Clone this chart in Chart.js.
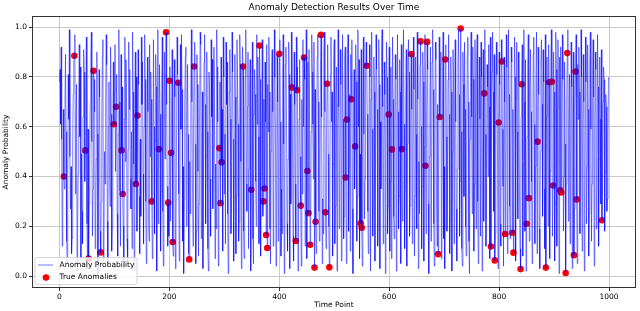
<!DOCTYPE html>
<html>
<head>
<meta charset="utf-8">
<script src="https://cdn.jsdelivr.net/npm/chart.js@4/dist/chart.umd.min.js"></script>
<style>
html,body{margin:0;padding:0;background:#fff;}
#c{display:block;}
</style>
</head>
<body>
<canvas id="c" width="640" height="311"></canvas>
<script>
const chartTitle = 'Anomaly Detection Results Over Time';
const xLabel = 'Time Point';
const yLabel = 'Anomaly Probability';
const lineLabel = 'Anomaly Probability';
const dotLabel = 'True Anomalies';
const xTicks = [0, 200, 400, 600, 800, 1000];
const yTicks = [0.0, 0.2, 0.4, 0.6, 0.8, 1.0];

// anomaly probability for time points 0..999 (20 per row)
const prob = [
/*   0 */ .78,.83,.61,.92,.55,.12,.27,.67,.40,.35,.71,.89,.58,.14,.05,.36,.81,.63,.99,.48,
/*  20 */ .27,.44,.09,.15,.52,.73,.86,.885,.97,.33,.61,.77,.02,.19,.41,.68,.93,.56,.84,.07,
/*  40 */ .49,.26,.13,.64,.91,.82,.38,.505,.75,.96,.21,.03,.59,.07,.29,.45,.70,.87,.98,.54,
/*  60 */ .16,.35,.825,.79,.66,.11,.24,.47,.90,.57,.01,.39,.83,.72,.18,.095,.30,.62,.88,.95,
/*  80 */ .06,.14,.50,.37,.69,.97,.85,.22,.04,.60,.78,.43,.28,.92,.65,.10,.19,.53,.86,.61,
/* 100 */ .74,.93,.42,.68,.81,.25,.08,.57,.99,.70,.34,.12,.89,.505,.76,.33,.20,.03,.63,.96,
/* 120 */ .46,.87,.72,.15,.06,.51,.94,.67,.83,.39,.27,.58,.11,.98,.74,.45,.02,.62,.90,.37,
/* 140 */ .80,.18,.645,.91,.77,.32,.09,.55,.24,.96,.69,.86,.41,.13,.60,.97,.79,.30,.05,.52,
/* 160 */ .88,.66,.23,.14,.93,.48,.82,.71,.30,.07,.38,.95,.60,.17,.54,.89,.76,.02,.43,.99,
/* 180 */ .21,.51,.85,.65,.10,.34,.73,.96,.26,.04,.58,.90,.47,.79,.98,.69,.36,.12,.295,.16,
/* 200 */ .785,.84,.22,.495,.63,.91,.137,.08,.40,.87,.72,.03,.19,.55,.96,.81,.777,.33,.06,.28,
/* 220 */ .93,.59,.97,.75,.14,.44,.01,.31,.68,.88,.92,.20,.63,.85,.57,.09,.067,.46,.25,.78,
/* 240 */ .99,.70,.37,.12,.60,.842,.94,.53,.05,.18,.89,.77,.42,.08,.29,.66,.98,.93,.15,.50,
/* 260 */ .74,.03,.35,.86,.97,.69,.21,.48,.90,.58,.11,.02,.82,.75,.39,.16,.95,.64,.87,.27,
/* 280 */ .52,.92,.71,.07,.45,.19,.99,.84,.62,.04,.36,.514,.78,.293,.88,.457,.67,.10,.96,.80,
/* 300 */ .33,.57,.13,.94,.69,.86,.25,.01,.49,.74,.91,.63,.17,.28,.98,.82,.55,.06,.40,.89,
/* 320 */ .72,.09,.32,.95,.78,.61,.14,.22,.97,.85,.46,.03,.70,.92,.842,.18,.07,.54,.80,.99,
/* 340 */ .37,.26,.68,.90,.11,.43,.76,.87,.02,.347,.59,.94,.15,.05,.65,.83,.73,.38,.20,.97,
/* 360 */ .61,.88,.56,.13,.926,.79,.08,.41,.67,.95,.24,.30,.71,.352,.86,.62,.165,.93,.113,.77,
/* 380 */ .58,.96,.74,.19,.05,.50,.83,.91,.66,.12,.31,.99,.80,.57,.04,.23,.89,.70,.14,.44,
/* 400 */ .893,.95,.62,.08,.35,.17,.76,.97,.53,.01,.40,.85,.92,.68,.21,.10,.47,.94,.81,.03,
/* 420 */ .73,.29,.98,.758,.55,.16,.06,.90,.69,.37,.141,.96,.747,.84,.02,.22,.63,.87,.48,.283,
/* 440 */ .04,.71,.33,.95,.60,.878,.79,.12,.44,.99,.07,.422,.86,.253,.91,.67,.126,.18,.58,.97,
/* 460 */ .82,.61,.39,.94,.034,.75,.218,.09,.52,.88,.97,.70,.26,.14,.43,.85,.969,.64,.05,.31,
/* 480 */ .17,.90,.98,.66,.256,.11,.58,.773,.93,.49,.20,.035,.37,.81,.96,.62,.74,.08,.45,.87,
/* 500 */ .95,.13,.28,.72,.84,.02,.56,.99,.68,.19,.41,.91,.77,.06,.34,.97,.63,.15,.24,.88,
/* 520 */ .92,.396,.05,.629,.86,.97,.18,.44,.73,.10,.89,.71,.95,.27,.01,.66,.83,.35,.521,.93,
/* 540 */ .78,.14,.32,.99,.60,.87,.07,.49,.212,.91,.194,.04,.70,.96,.57,.23,.39,.82,.94,.845,
/* 560 */ .65,.26,.09,.47,.93,.80,.02,.71,.98,.59,.16,.30,.88,.74,.06,.42,.97,.83,.67,.12,
/* 580 */ .21,.95,.77,.03,.62,.35,.90,.99,.68,.13,.46,.86,.73,.01,.55,.94,.80,.17,.28,.649,
/* 600 */ .92,.10,.38,.84,.07,.509,.96,.71,.24,.15,.58,.89,.79,.02,.43,.97,.66,.19,.32,.87,
/* 620 */ .74,.05,.93,.51,.22,.85,.99,.61,.11,.36,.69,.91,.04,.53,.77,.95,.82,.16,.28,.63,
/* 640 */ .892,.67,.13,.40,.96,.75,.08,.32,.88,.57,.19,.98,.71,.03,.46,.25,.85,.943,.60,.11,
/* 660 */ .36,.90,.78,.06,.52,.97,.443,.17,.64,.941,.83,.29,.01,.48,.70,.92,.14,.37,.86,.99,
/* 680 */ .75,.21,.04,.58,.94,.87,.31,.12,.69,.088,.41,.96,.639,.83,.90,.07,.26,.72,.98,.15,
/* 700 */ .44,.03,.87,.93,.56,.18,.35,.79,.97,.65,.09,.23,.88,.74,.02,.50,.91,.81,.13,.68,
/* 720 */ .95,.62,.27,.06,.43,.85,.99,.73,.16,.38,.995,.58,.11,.04,.90,.77,.32,.94,.67,.20,
/* 740 */ .08,.47,.89,.96,.70,.14,.01,.55,.83,.98,.64,.25,.92,.79,.10,.37,.95,.61,.19,.86,
/* 760 */ .97,.30,.05,.72,.88,.63,.16,.94,.80,.02,.45,.91,.22,.734,.99,.57,.12,.34,.85,.76,
/* 780 */ .40,.93,.68,.07,.96,.119,.53,.82,.98,.74,.26,.89,.063,.17,.66,.94,.81,.48,.03,.617,
/* 800 */ .90,.77,.21,.12,.95,.862,.59,.36,.04,.88,.70,.169,.43,.97,.84,.09,.62,.99,.73,.28,
/* 820 */ .15,.51,.92,.86,.174,.67,.094,.39,.96,.80,.06,.71,.94,.58,.23,.90,.78,.33,.11,.028,
/* 840 */ .64,.771,.93,.08,.45,.99,.70,.18,.87,.02,.21,.56,.83,.97,.313,.14,.75,.91,.66,.38,
/* 860 */ .05,.27,.89,.96,.61,.13,.44,.80,.98,.09,.54,.92,.73,.19,.03,.50,.86,.95,.69,.24,
/* 880 */ .91,.78,.35,.11,.97,.034,.64,.88,.57,.20,.93,.779,.07,.42,.85,.99,.781,.16,.364,.90,
/* 900 */ .74,.06,.29,.98,.83,.12,.67,.95,.47,.01,.88,.345,.92,.336,.60,.97,.79,.18,.40,.86,
/* 920 */ .53,.012,.37,.71,.896,.99,.22,.58,.81,.13,.46,.94,.76,.03,.62,.90,.084,.27,.68,.822,
/* 940 */ .97,.308,.05,.85,.63,.92,.74,.17,.41,.99,.80,.10,.55,.89,.70,.02,.33,.96,.78,.21,
/* 960 */ .44,.93,.67,.08,.25,.86,.98,.59,.14,.37,.81,.95,.72,.04,.50,.90,.83,.19,.31,.97,
/* 980 */ .76,.12,.47,.88,.63,.29,.91,.224,.35,.70,.84,.79,.18,.42,.73,.68,.26,.31,.55,.80
];

// time points flagged as true anomalies
const anomalyIdx = [
  8, 27, 47, 53, 62, 75, 99, 103, 113, 115, 139, 142, 168, 181, 194, 198,
  200, 203, 206, 216, 236, 245, 291, 293, 295, 334, 349, 364, 371, 373, 376, 378,
  400, 423, 430, 432, 439, 445, 451, 453, 456, 464, 466, 476, 484, 487, 491,
  521, 523, 531, 538, 548, 550, 559, 599, 605, 623, 640, 657, 666, 669, 689, 692,
  702, 730, 773, 785, 792, 799, 805, 811, 824, 826, 839, 841, 850, 854, 870,
  885, 891, 896, 898, 911, 913, 921, 924, 936, 939, 941, 987
];

const FONT = 'DejaVu Sans';
const lineColor = 'rgba(0,0,255,0.5)';
const dotColor = '#ff0000';

const lineData = prob.map((v, i) => ({x: i, y: v}));
const dotData = anomalyIdx.map(i => ({x: i, y: prob[i]}));

const frame = {
  id: 'frame',
  afterDatasetsDraw(chart) {
    const a = chart.chartArea, ctx = chart.ctx;
    ctx.save();
    ctx.strokeStyle = '#333';
    ctx.lineWidth = 1;
    ctx.strokeRect(Math.round(a.left) + 0.5, Math.round(a.top) + 0.5,
                   Math.round(a.right - a.left) - 1, Math.round(a.bottom - a.top) - 1);
    ctx.restore();
  }
};

const mplLegend = {
  id: 'mplLegend',
  afterDraw(chart) {
    const a = chart.chartArea, ctx = chart.ctx;
    const ds = chart.data.datasets;
    const bx = a.left + 3, bw = 102, bh = 27, by = a.bottom - 3.5 - bh;
    ctx.save();
    ctx.beginPath();
    const r = 2;
    ctx.moveTo(bx + r, by);
    ctx.lineTo(bx + bw - r, by); ctx.quadraticCurveTo(bx + bw, by, bx + bw, by + r);
    ctx.lineTo(bx + bw, by + bh - r); ctx.quadraticCurveTo(bx + bw, by + bh, bx + bw - r, by + bh);
    ctx.lineTo(bx + r, by + bh); ctx.quadraticCurveTo(bx, by + bh, bx, by + bh - r);
    ctx.lineTo(bx, by + r); ctx.quadraticCurveTo(bx, by, bx + r, by);
    ctx.closePath();
    ctx.fillStyle = 'rgba(255,255,255,0.8)';
    ctx.fill();
    ctx.strokeStyle = '#cccccc';
    ctx.lineWidth = 0.8;
    ctx.stroke();
    const y1 = by + 7.5, y2 = by + 20;
    ctx.strokeStyle = lineColor;
    ctx.lineWidth = 1.1;
    ctx.beginPath(); ctx.moveTo(bx + 3, y1); ctx.lineTo(bx + 18, y1); ctx.stroke();
    ctx.fillStyle = dotColor;
    ctx.beginPath(); ctx.arc(bx + 11, y2, 3.3, 0, Math.PI * 2); ctx.fill();
    ctx.fillStyle = '#000';
    ctx.font = '7.5px "' + FONT + '"';
    ctx.textBaseline = 'middle';
    ctx.textAlign = 'left';
    ctx.fillText(ds[0].label, bx + 24.5, y1);
    ctx.fillText(ds[1].label, bx + 24.5, y2);
    ctx.restore();
  }
};

const tickFont = {family: FONT, size: 7.5};

new Chart(document.getElementById('c'), {
  type: 'line',
  data: {
    datasets: [
      {
        label: lineLabel,
        data: lineData,
        borderColor: lineColor,
        borderWidth: 1,
        pointRadius: 0,
        pointHoverRadius: 0,
        tension: 0,
        fill: false
      },
      {
        label: dotLabel,
        data: dotData,
        showLine: false,
        pointRadius: 3.3,
        pointHoverRadius: 3.3,
        pointBackgroundColor: dotColor,
        pointBorderWidth: 0,
        borderColor: dotColor,
        backgroundColor: dotColor
      }
    ]
  },
  options: {
    responsive: false,
    devicePixelRatio: 1,
    animation: false,
    events: [],
    layout: {padding: {left: 0, right: 4, top: 0, bottom: 0}},
    plugins: {
      legend: {display: false},
      tooltip: {enabled: false},
      title: {
        display: true,
        text: chartTitle,
        fullSize: false,
        color: '#000',
        font: {family: FONT, size: 9, weight: 'normal', lineHeight: 1.2},
        padding: {top: 2, bottom: 3.2}
      }
    },
    scales: {
      x: {
        type: 'linear',
        min: -50,
        max: 1049,
        afterBuildTicks: s => { s.ticks = xTicks.map(v => ({value: v})); },
        afterFit: s => { s.height = 23; },
        ticks: {font: tickFont, color: '#000', padding: 1.5, maxRotation: 0, autoSkip: false,
                callback: v => String(v)},
        grid: {color: '#c8c8c8', lineWidth: 1, tickLength: 3, tickColor: '#333'},
        border: {display: false},
        title: {display: true, text: xLabel, color: '#000', font: {family: FONT, size: 7.5, lineHeight: 1.2},
                padding: {top: 0, bottom: 1}}
      },
      y: {
        type: 'linear',
        min: -0.048,
        max: 1.045,
        afterBuildTicks: s => { s.ticks = yTicks.map(v => ({value: v})); },
        afterFit: s => { s.width = 32; },
        ticks: {font: tickFont, color: '#000', padding: 2, autoSkip: false,
                callback: v => Number(v).toFixed(1)},
        grid: {color: '#c8c8c8', lineWidth: 1, tickLength: 3, tickColor: '#333'},
        border: {display: false},
        title: {display: true, text: yLabel, color: '#000', font: {family: FONT, size: 7.5, lineHeight: 1.2},
                padding: {top: 1.5, bottom: 0}}
      }
    }
  },
  plugins: [frame, mplLegend]
});
</script>
</body>
</html>
